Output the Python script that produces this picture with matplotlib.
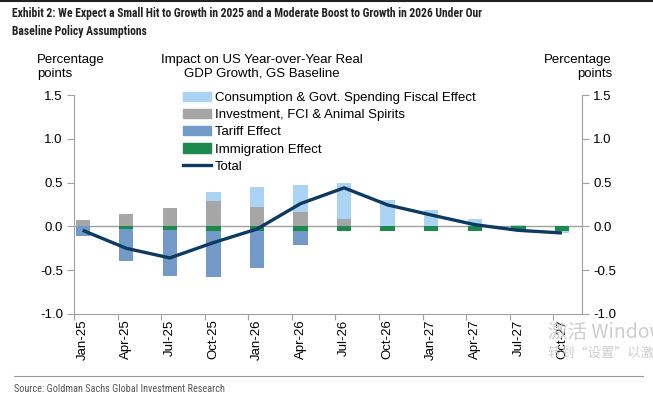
import numpy as np
import matplotlib
matplotlib.use('Agg')
import matplotlib.pyplot as plt
from matplotlib.lines import Line2D
from matplotlib import font_manager

plt.rcParams['font.family'] = ['Liberation Sans', 'DejaVu Sans']

# 数据
quarters = ['Jan-25', 'Apr-25', 'Jul-25', 'Oct-25', 'Jan-26', 'Apr-26',
            'Jul-26', 'Oct-26', 'Jan-27', 'Apr-27', 'Jul-27', 'Oct-27']
fiscal = [0.0, 0.0, 0.0, 0.10, 0.22, 0.31, 0.41, 0.30, 0.19, 0.08, 0.015, -0.02]
invest = [0.07, 0.145, 0.21, 0.295, 0.225, 0.16, 0.09, 0.0, 0.0, 0.0, 0.0, 0.0]
tariff = [-0.115, -0.365, -0.53, -0.525, -0.415, -0.165, 0.0, 0.0, 0.0, 0.0, 0.0, 0.0]
immig = [0.0, -0.027, -0.038, -0.053, -0.057, -0.05, -0.057, -0.057, -0.057, -0.057, -0.057, -0.057]
total = [-0.045, -0.25, -0.36, -0.185, -0.03, 0.26, 0.44, 0.245, 0.13, 0.02, -0.045, -0.075]

c_fiscal = '#abd3f3'
c_invest = '#a6a6a6'
c_tariff = '#7399c8'
c_immig = '#1b8a4c'
c_total = '#0c3a60'

# 找一个窄字体，没有就用 Liberation Sans
names = {f.name for f in font_manager.fontManager.ttflist}
narrow = 'Liberation Sans'
for n in ['Liberation Sans Narrow', 'Arial Narrow', 'DejaVu Sans Condensed', 'Roboto Condensed']:
    if n in names:
        narrow = n
        break

fig = plt.figure(figsize=(6.53, 3.95), dpi=100)
ax = fig.add_axes([74/653, 1-314/395, (582-74)/653, (314-95)/395])

x = np.arange(len(quarters)) + 0.2
w = 0.33

fiscal = np.array(fiscal)
invest = np.array(invest)
tariff = np.array(tariff)
immig = np.array(immig)

# 正值堆叠：投资在下，财政在上；负值：移民靠近零，关税在下
ax.bar(x, invest, w, color=c_invest, zorder=2)
fis_pos = np.where(fiscal > 0, fiscal, 0)
fis_neg = np.where(fiscal < 0, fiscal, 0)
ax.bar(x, fis_pos, w, bottom=invest, color=c_fiscal, zorder=2)
ax.bar(x, immig, w, color=c_immig, zorder=2)
ax.bar(x, tariff, w, bottom=immig, color=c_tariff, zorder=2)
ax.bar(x, fis_neg, w, bottom=immig + tariff, color=c_fiscal, zorder=2)
ax.plot(x, total, color=c_total, lw=2.4, zorder=3, solid_capstyle='butt')

ax.axhline(0, color='#a0a0a0', lw=1, zorder=1)

ax.set_ylim(-1.0, 1.5)
ax.set_xlim(0, 11.66)
ax.set_yticks([-1.0, -0.5, 0.0, 0.5, 1.0, 1.5])
ax.set_yticklabels(['-1.0', '-0.5', '0.0', '0.5', '1.0', '1.5'])
ax.tick_params(axis='y', which='both', left=True, right=True, labelleft=True,
               labelright=True, direction='out', length=5, color='#a0a0a0',
               labelsize=9.5, pad=3)
ax.set_xticks(np.arange(len(quarters)))
ax.set_xticklabels([])
ax.set_xticks(x, minor=True)
ax.set_xticklabels(quarters, minor=True, rotation=90, fontsize=9.5)
ax.tick_params(axis='x', which='major', direction='out', length=4, color='#a0a0a0')
ax.tick_params(axis='x', which='minor', length=0, pad=4)

for s in ['left', 'right', 'bottom']:
    ax.spines[s].set_color('#a0a0a0')
ax.spines['top'].set_visible(False)

# 图例
handles = [
    plt.Rectangle((0, 0), 1, 1, color=c_fiscal),
    plt.Rectangle((0, 0), 1, 1, color=c_invest),
    plt.Rectangle((0, 0), 1, 1, color=c_tariff),
    plt.Rectangle((0, 0), 1, 1, color=c_immig),
    Line2D([], [], color=c_total, lw=2.4),
]
labels = ['Consumption & Govt. Spending Fiscal Effect',
          'Investment, FCI & Animal Spirits',
          'Tariff Effect', 'Immigration Effect', 'Total']
fig.legend(handles, labels, loc='upper left', bbox_to_anchor=(183/653, 1-92/395),
           frameon=False, fontsize=9.5, handlelength=2.1, handleheight=0.7,
           handletextpad=0.3, labelspacing=0.37, borderpad=0, borderaxespad=0)

# 标题：按参考图宽度缩放字号
title1 = 'Exhibit 2: We Expect a Small Hit to Growth in 2025 and a Moderate Boost to Growth in 2026 Under Our'
t1 = fig.text(12/653, 1-13/395, title1, family=narrow, fontweight='bold',
              fontsize=10, va='center', color='#222222')
t2 = fig.text(12/653, 1-31/395, 'Baseline Policy Assumptions', family=narrow,
              fontweight='bold', fontsize=10, va='center', color='#222222')
src = fig.text(14/653, 1-389/395, 'Source: Goldman Sachs Global Investment Research',
               family=narrow, fontsize=7, va='center', color='#555555')
r = fig.canvas.get_renderer()
k = 474 / t1.get_window_extent(r).width
t1.set_fontsize(10 * k)
t2.set_fontsize(10 * k)
src.set_fontsize(7 * 213 / src.get_window_extent(r).width)

fig.text(37/653, 1-67/395, 'Percentage\npoints', fontsize=9.5, va='center',
         ha='left', linespacing=1.15)
fig.text(612/653, 1-67/395, 'Percentage\npoints', fontsize=9.5, va='center',
         ha='right', multialignment='right', linespacing=1.15)
fig.text(262/653, 1-67/395, 'Impact on US Year-over-Year Real\nGDP Growth, GS Baseline',
         fontsize=9.5, va='center', ha='center', linespacing=1.15)

# 底部分隔线和顶部边线
fig.add_artist(Line2D([14/653, 643/653], [1-376/395, 1-376/395], color='#999999', lw=0.8))
fig.add_artist(Line2D([0, 1], [1-1/395, 1-1/395], color='#222222', lw=1.5))

# 屏幕水印
cjk = ['Noto Sans CJK SC', 'DejaVu Sans']
fig.text(548/653, 1-333/395, '激活 Windows', family=cjk, fontsize=14,
         color='#c8c8c8', va='center', alpha=0.9)
fig.text(548/653, 1-353/395, '转到“设置”以激活 Windows。', family=cjk, fontsize=9.5,
         color='#c8c8c8', va='center', alpha=0.9)

fig.savefig('out.png', dpi=100)
